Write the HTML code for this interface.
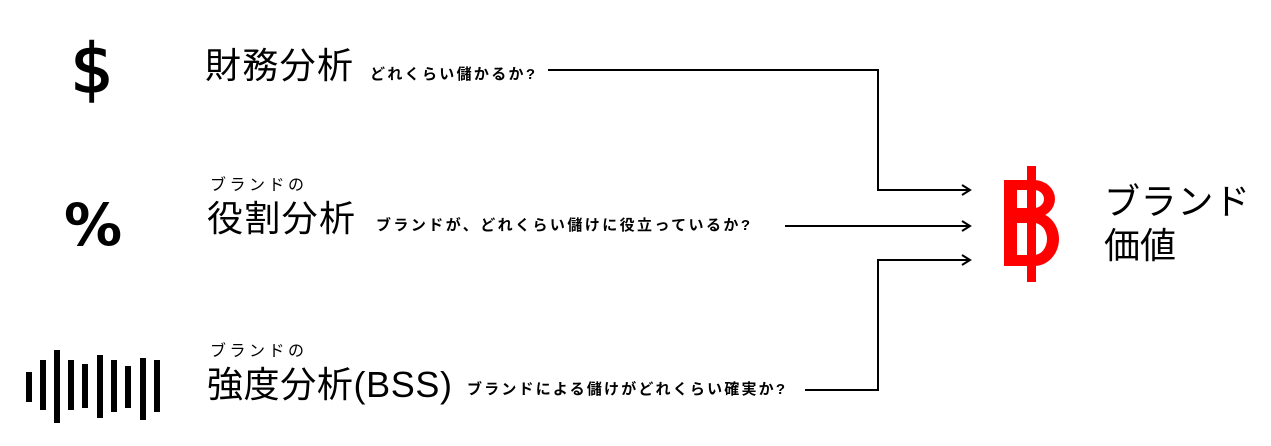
<!DOCTYPE html>
<html><head><meta charset="utf-8"><style>
body{margin:0;background:#fff;}
</style></head><body>
<svg width="1271" height="446" xmlns="http://www.w3.org/2000/svg" style="display:block;font-family:'Liberation Sans','Noto Sans CJK JP',sans-serif">
<defs><marker id="a" markerWidth="12" markerHeight="12" refX="10" refY="6" orient="auto" markerUnits="userSpaceOnUse"><path d="M2,1 L10,6 L2,11" fill="none" stroke="#000" stroke-width="2"/></marker></defs>
<text x="92" y="92" font-size="68" text-anchor="middle" font-family="DejaVu Sans" stroke="#000" stroke-width="1.5">$</text>
<text x="93" y="245" font-size="58" text-anchor="middle" font-weight="bold" font-family="DejaVu Sans">%</text>
<g fill="#000">
<rect x="26" y="372" width="6" height="30"/><rect x="40" y="360" width="6" height="50"/><rect x="54" y="350" width="6" height="73"/><rect x="68" y="360" width="6" height="50"/><rect x="82" y="364" width="6" height="44"/><rect x="97" y="355" width="6" height="63"/><rect x="111" y="360" width="6" height="52"/><rect x="125" y="366" width="6" height="42"/><rect x="140" y="358" width="6" height="62"/><rect x="154" y="360" width="6" height="52"/>
</g>
<text x="205" y="78" font-size="36" textLength="148">財務分析</text>
<text x="370" y="79" font-size="15" font-weight="bold" textLength="165">どれくらい儲かるか?</text>
<text x="210" y="190" font-size="16" textLength="94">ブランドの</text>
<text x="207" y="231" font-size="36" textLength="148">役割分析</text>
<text x="376" y="230" font-size="15" font-weight="bold" textLength="374">ブランドが、どれくらい儲けに役立っているか?</text>
<text x="210" y="356" font-size="16" textLength="94">ブランドの</text>
<text x="207" y="397" font-size="36" textLength="245">強度分析(BSS)</text>
<text x="467" y="394" font-size="15" font-weight="bold" textLength="318">ブランドによる儲けがどれくらい確実か?</text>
<g fill="none" stroke="#000" stroke-width="2">
<polyline points="548,70 878,70 878,190 970,190" marker-end="url(#a)"/>
<line x1="785" y1="226" x2="970" y2="226" marker-end="url(#a)"/>
<polyline points="805,390 878,390 878,260 970,260" marker-end="url(#a)"/>
</g>
<g fill="#f00">
<rect x="1004" y="180" width="13" height="86"/>
<rect x="1027" y="166" width="9" height="116"/>
<path d="M1004,180 H1034 A21,19 0 0 1 1034,218 H1004 V208 H1034 A10,9 0 0 0 1034,190 H1004Z"/>
<path d="M1004,212 H1034 A25,27 0 0 1 1034,266 H1004 V255 H1034 A13,16 0 0 0 1034,223 H1004Z"/>
</g>
<text x="1104" y="214" font-size="36" textLength="146">ブランド</text>
<text x="1104" y="258" font-size="36" textLength="72">価値</text>
</svg>
</body></html>
